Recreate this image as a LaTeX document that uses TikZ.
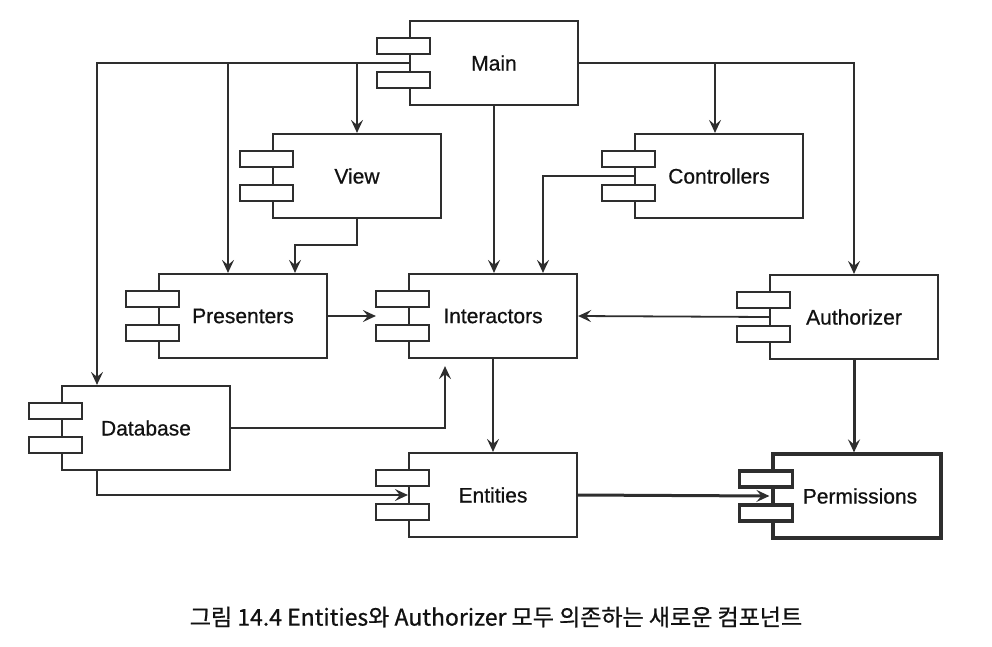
\documentclass[tikz,border=0pt]{standalone}
\usepackage{fontspec}
\setmainfont[FakeBold=0.6]{Liberation Sans}
\newfontfamily\krfont[FakeBold=0.8]{Noto Sans CJK KR}
\usetikzlibrary{arrows.meta,calc}
\definecolor{linec}{HTML}{2E2E2E}
\definecolor{textc}{HTML}{111111}
\tikzset{
  comp/.style={draw=linec, line width=2.2pt, fill=white, minimum width=168pt, minimum height=84pt, inner sep=0pt, text=textc, font=\fontsize{21}{24}\selectfont},
  thickcomp/.style={comp, line width=3.2pt},
  port/.style={draw=linec, line width=2.2pt, fill=white},
  arr/.style={draw=linec, line width=1.8pt, -{Stealth[length=13pt,width=12pt,inset=5pt]}},
  thickarr/.style={arr, line width=3pt},
  caption/.style={font=\krfont\fontsize{23}{26}\selectfont, text=textc}
}
\newcommand\compports[2][]{%
  \draw[port,#1] ($(#2.west)+(-32,-25)$) rectangle ($(#2.west)+(21,-9)$);
  \draw[port,#1] ($(#2.west)+(-32,9)$) rectangle ($(#2.west)+(21,25)$);
}
\begin{document}
\begin{tikzpicture}[x=1pt,y=-1pt]
\useasboundingbox (0,0) rectangle (992,646);
% components
\node[comp] (Main) at (494,63) {Main};
\node[comp] (View) at (357,176) {View};
\node[comp] (Controllers) at (719,176) {Controllers};
\node[comp] (Presenters) at (243,316) {Presenters};
\node[comp] (Interactors) at (493,316) {Interactors};
\node[comp] (Authorizer) at (854,317) {Authorizer};
\node[comp] (Database) at (146,428) {Database};
\node[comp] (Entities) at (493,495) {Entities};
\node[thickcomp] (Permissions) at (857,496) {\hspace*{6pt}Permissions};
% connectors
\draw[arr] (Main.west) -| (Database.north -| 97,0);
\draw[arr] (Main.west -| 228,0) -- (Presenters.north -| 228,0);
\draw[arr] (Main.west -| 357,0) -- (View.north);
\draw[arr] (Main.south) -- (Interactors.north -| Main.south);
\draw[arr] (Main.east) -| (Authorizer.north);
\draw[arr] (Main.east -| 715,0) -- (Controllers.north -| 715,0);
\draw[arr] (View.south) -- (357,245) -| (Presenters.north -| 295,0);
\draw[arr] (Controllers.west) -| (Interactors.north -| 543,0);
\draw[arr] (Presenters.east) -- ($(Interactors.west)+(-32,0)$);
\draw[arr] (Authorizer.west) -- (Interactors.east);
\draw[arr] (Database.east) -| ($(Interactors.south -| 445,0)+(0,7)$);
\draw[arr] (Interactors.south) -- (Entities.north);
\draw[arr] (Database.south -| 97,0) |- (Entities.west);
\draw[thickarr] (Entities.east) -- ($(Permissions.west)+(-2,0)$);
\draw[thickarr] (Authorizer.south) -- (Permissions.north -| Authorizer.south);
% ports
\compports{Main}
\compports{View}
\compports{Controllers}
\compports{Presenters}
\compports{Interactors}
\compports{Authorizer}
\compports{Database}
\compports{Entities}
\compports[line width=3.2pt]{Permissions}
% caption
\node[caption] (cap) at (496,617) {그림 14.4 Entities와 Authorizer 모두 의존하는 새로운 컴포넌트};
\end{tikzpicture}
\end{document}
